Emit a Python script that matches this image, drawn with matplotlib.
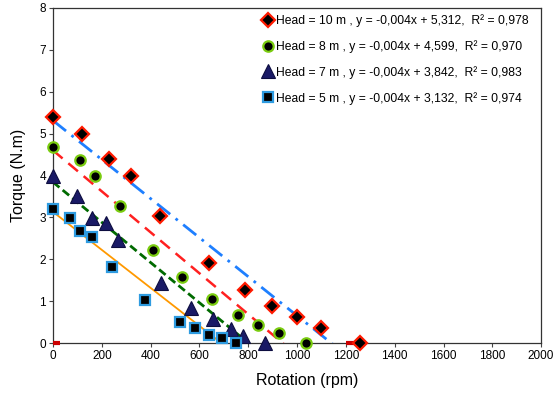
import matplotlib.pyplot as plt
import numpy as np

plt.rcParams['font.family'] = ['Liberation Sans', 'DejaVu Sans']

# Head = 10 m
rpm_10 = [0, 120, 228, 320, 440, 638, 788, 897, 1000, 1099, 1258]
torque_10 = [5.40, 5.00, 4.40, 4.00, 3.03, 1.92, 1.27, 0.88, 0.61, 0.35, 0.0]
# Head = 8 m
rpm_8 = [2, 110, 171, 273, 411, 527, 650, 759, 839, 926, 1037]
torque_8 = [4.68, 4.38, 3.99, 3.26, 2.21, 1.58, 1.06, 0.68, 0.43, 0.23, 0.0]
# Head = 7 m
rpm_7 = [0, 99, 158, 218, 267, 441, 564, 655, 730, 780, 868]
torque_7 = [3.98, 3.50, 2.98, 2.87, 2.45, 1.43, 0.83, 0.57, 0.34, 0.17, 0.0]
# Head = 5 m
rpm_5 = [0, 69, 110, 160, 240, 377, 520, 582, 638, 691, 748]
torque_5 = [3.19, 2.98, 2.67, 2.52, 1.82, 1.03, 0.51, 0.35, 0.20, 0.12, 0.0]

# linhas de tendencia
trend_slope = [-0.00466, -0.00489, -0.00480, -0.00454]
trend_intercept = [5.312, 4.599, 3.842, 3.132]

labels = [
    'Head = 10 m , y = -0,004x + 5,312,  R² = 0,978',
    'Head = 8 m , y = -0,004x + 4,599,  R² = 0,970',
    'Head = 7 m , y = -0,004x + 3,842,  R² = 0,983',
    'Head = 5 m , y = -0,004x + 3,132,  R² = 0,974',
]

# pequenos tracos vermelhos sobre o eixo x
red_marks = [(0, 30), (1200, 1245)]

x_ticks = list(range(0, 2001, 200))
y_ticks = list(range(0, 9))

fig = plt.figure(figsize=(5.55, 3.94), dpi=100)
ax = fig.add_axes([0.0955, 0.1294, 0.8795, 0.8503])

x_line = np.linspace(0, 2000, 400)
styles = [
    dict(color='#1E7FFF', lw=2.0, dashes=(6, 2.5, 1, 2.5)),
    dict(color='#FF2020', lw=1.8, dashes=(5, 3)),
    dict(color='#006A00', lw=2.0, dashes=(3, 1.5)),
    dict(color='#FF9900', lw=1.3),
]
for m, b, st in zip(trend_slope, trend_intercept, styles):
    ax.plot(x_line, m * x_line + b, zorder=2, **st)

for a, b in red_marks:
    ax.plot([a, b], [0, 0], color='#CC0000', lw=3, solid_capstyle='butt', clip_on=False, zorder=3)

ax.plot(rpm_10, torque_10, 'D', ms=7, mfc='black', mec='#FF1A00', mew=1.6,
        ls='none', clip_on=False, zorder=4, label=labels[0])
ax.plot(rpm_8, torque_8, 'o', ms=7.5, mfc='black', mec='#7ACC10', mew=1.6,
        ls='none', clip_on=False, zorder=4, label=labels[1])
ax.plot(rpm_7, torque_7, '^', ms=9.5, mfc='#1A1A66', mec='#0D0D40', mew=0.8,
        ls='none', clip_on=False, zorder=4, label=labels[2])
ax.plot(rpm_5, torque_5, 's', ms=6.5, mfc='black', mec='#2E9BE0', mew=1.6,
        ls='none', clip_on=False, zorder=4, label=labels[3])

ax.set_xlim(0, 2000)
ax.set_ylim(0, 8)
ax.set_xticks(x_ticks)
ax.set_yticks(y_ticks)
ax.tick_params(labelsize=8.5, length=3, width=0.8, color='#444444', pad=2)
for s in ax.spines.values():
    s.set_color('#333333')
    s.set_linewidth(0.9)

ax.set_xlabel('Rotation (rpm)', fontsize=11.5)
ax.set_ylabel('Torque (N.m)', fontsize=11.5)
ax.xaxis.set_label_coords(0.52, -0.09)
ax.yaxis.set_label_coords(-0.055, 0.5)

ax.legend(loc='upper right', bbox_to_anchor=(0.9846, 0.9964), frameon=False,
          fontsize=8.7, handlelength=0.6, handletextpad=0.35, labelspacing=1.08,
          borderaxespad=0, borderpad=0.4)

fig.savefig('out.png', dpi=100)
